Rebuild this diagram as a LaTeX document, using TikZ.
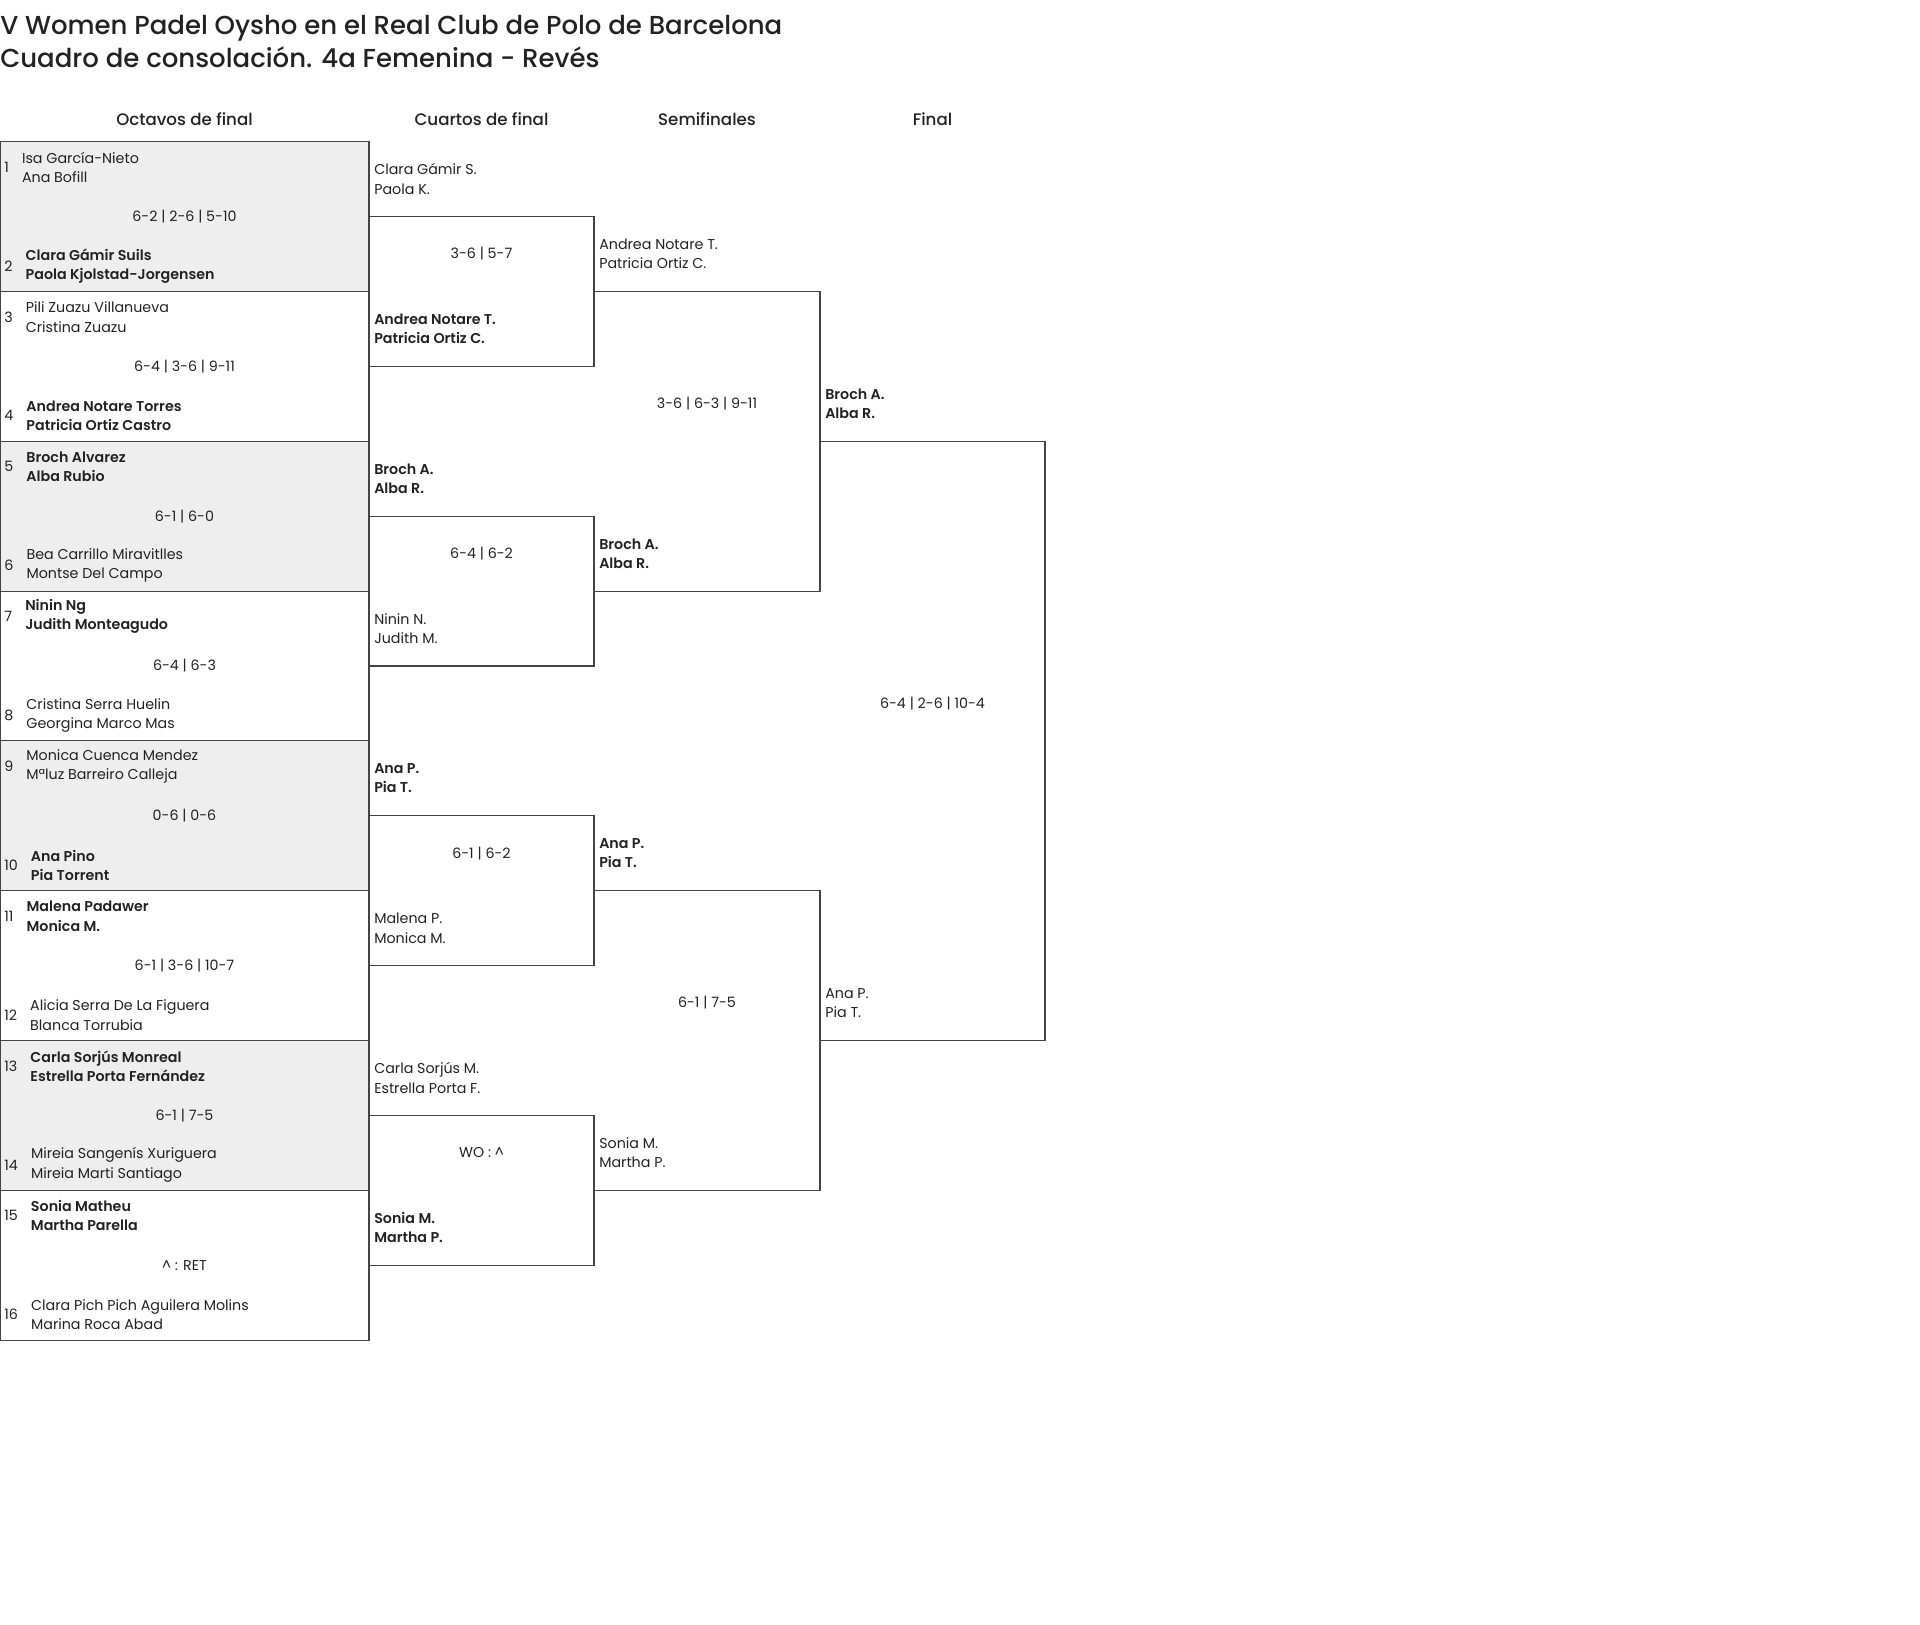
\documentclass[tikz,border=0pt]{standalone}
\usepackage{fontspec}
\setmainfont{Poppins}[BoldFont={Poppins Medium}]
\newfontfamily\semi{Poppins SemiBold}
\usetikzlibrary{positioning}
\definecolor{linea}{HTML}{444444}
\definecolor{gris}{HTML}{EEEEEE}
\definecolor{texto}{HTML}{222222}
\tikzset{
  caja/.style={draw=linea, line width=0.8pt},
  num/.style={anchor=west, inner xsep=3pt, inner ysep=0pt, font=\fontsize{10.7}{14.5}\selectfont},
  pierde/.style={align=left, inner xsep=3pt, inner ysep=0pt, font=\fontsize{10.7}{14.5}\selectfont},
  gana/.style={pierde, font=\fontsize{10.7}{14.5}\semi},
  res/.style={inner sep=0pt, font=\fontsize{10.7}{14.5}\selectfont},
  ronda/.style={anchor=west, inner sep=0pt},
  titulo/.style={anchor=west, inner sep=0pt, font=\fontsize{19.5}{23}\selectfont\bfseries},
  cabecera/.style={inner sep=0pt, font=\fontsize{12.5}{15}\selectfont\bfseries}
}
\begin{document}
\begin{tikzpicture}[x=0.75pt, y=-0.75pt, text=texto]
\useasboundingbox (0,0) rectangle (1920,1624);
% Titulo:
\node[titulo] (tit1) at (0,28) {V Women Padel Oysho en el Real Club de Polo de Barcelona};
\node[titulo] (tit2) at (0,57.5) {Cuadro de consolación. 4a Femenina - Revés};
% Rondas:
\node[cabecera] (octavos) at (184.5,119) {Octavos de final};
\node[cabecera] (cuartos) at (481.5,119) {Cuartos de final};
\node[cabecera] (semis) at (707,119) {Semifinales};
\node[cabecera] (final) at (932.5,119) {Final};
\begin{scope}[shift={(0,141.7)}, y=-56.175pt]
% Cajas octavos:
\fill[gris] (0,0) rectangle (369,2);
\fill[gris] (0,4) rectangle (369,6);
\fill[gris] (0,8) rectangle (369,10);
\fill[gris] (0,12) rectangle (369,14);
\draw[caja] (0,0) rectangle (369,2);
\draw[caja] (0,2) rectangle (369,4);
\draw[caja] (0,4) rectangle (369,6);
\draw[caja] (0,6) rectangle (369,8);
\draw[caja] (0,8) rectangle (369,10);
\draw[caja] (0,10) rectangle (369,12);
\draw[caja] (0,12) rectangle (369,14);
\draw[caja] (0,14) rectangle (369,16);
% Llaves cuartos, semis, final:
\draw[caja] (369,1) -- (594,1) -- (594,3) -- (369,3);
\draw[caja] (369,5) -- (594,5) -- (594,7) -- (369,7);
\draw[caja] (369,9) -- (594,9) -- (594,11) -- (369,11);
\draw[caja] (369,13) -- (594,13) -- (594,15) -- (369,15);
\draw[caja] (594,2) -- (820,2) -- (820,6) -- (594,6);
\draw[caja] (594,10) -- (820,10) -- (820,14) -- (594,14);
\draw[caja] (820,4) -- (1045,4) -- (1045,12) -- (820,12);
% Octavos:
\node[num] (n1) at (0,0.34) {1};
\node[pierde, right=3.5pt of n1] (e1) {Isa García-Nieto\\Ana Bofill};
\node[res] (r1) at (184.5,1) {6-2 | 2-6 | 5-10};
\node[num] (n2) at (0,1.66) {2};
\node[gana, right=3.5pt of n2] (e2) {Clara Gámir Suils\\Paola Kjolstad-Jorgensen};
\node[num] (n3) at (0,2.34) {3};
\node[pierde, right=3.5pt of n3] (e3) {Pili Zuazu Villanueva\\Cristina Zuazu};
\node[res] (r2) at (184.5,3) {6-4 | 3-6 | 9-11};
\node[num] (n4) at (0,3.66) {4};
\node[gana, right=3.5pt of n4] (e4) {Andrea Notare Torres\\Patricia Ortiz Castro};
\node[num] (n5) at (0,4.34) {5};
\node[gana, right=3.5pt of n5] (e5) {Broch Alvarez\\Alba Rubio};
\node[res] (r3) at (184.5,5) {6-1 | 6-0};
\node[num] (n6) at (0,5.66) {6};
\node[pierde, right=3.5pt of n6] (e6) {Bea Carrillo Miravitlles\\Montse Del Campo};
\node[num] (n7) at (0,6.34) {7};
\node[gana, right=3.5pt of n7] (e7) {Ninin Ng\\Judith Monteagudo};
\node[res] (r4) at (184.5,7) {6-4 | 6-3};
\node[num] (n8) at (0,7.66) {8};
\node[pierde, right=3.5pt of n8] (e8) {Cristina Serra Huelin\\Georgina Marco Mas};
\node[num] (n9) at (0,8.34) {9};
\node[pierde, right=3.5pt of n9] (e9) {Monica Cuenca Mendez\\Mªluz Barreiro Calleja};
\node[res] (r5) at (184.5,9) {0-6 | 0-6};
\node[num] (n10) at (0,9.66) {10};
\node[gana, right=3.5pt of n10] (e10) {Ana Pino\\Pia Torrent};
\node[num] (n11) at (0,10.34) {11};
\node[gana, right=3.5pt of n11] (e11) {Malena Padawer\\Monica M.};
\node[res] (r6) at (184.5,11) {6-1 | 3-6 | 10-7};
\node[num] (n12) at (0,11.66) {12};
\node[pierde, right=3.5pt of n12] (e12) {Alicia Serra De La Figuera\\Blanca Torrubia};
\node[num] (n13) at (0,12.34) {13};
\node[gana, right=3.5pt of n13] (e13) {Carla Sorjús Monreal\\Estrella Porta Fernández};
\node[res] (r7) at (184.5,13) {6-1 | 7-5};
\node[num] (n14) at (0,13.66) {14};
\node[pierde, right=3.5pt of n14] (e14) {Mireia Sangenís Xuriguera\\Mireia Marti Santiago};
\node[num] (n15) at (0,14.34) {15};
\node[gana, right=3.5pt of n15] (e15) {Sonia Matheu\\Martha Parella};
\node[res] (r8) at (184.5,15) {\textasciicircum{} : RET};
\node[num] (n16) at (0,15.66) {16};
\node[pierde, right=3.5pt of n16] (e16) {Clara Pich Pich Aguilera Molins\\Marina Roca Abad};
% Cuartos:
\node[pierde, ronda] (c1) at (374,0.5) {Clara Gámir S.\\Paola K.};
\node[res] (rc1) at (481.5,1.5) {3-6 | 5-7};
\node[gana, ronda] (c2) at (374,2.5) {Andrea Notare T.\\Patricia Ortiz C.};
\node[gana, ronda] (c3) at (374,4.5) {Broch A.\\Alba R.};
\node[res] (rc2) at (481.5,5.5) {6-4 | 6-2};
\node[pierde, ronda] (c4) at (374,6.5) {Ninin N.\\Judith M.};
\node[gana, ronda] (c5) at (374,8.5) {Ana P.\\Pia T.};
\node[res] (rc3) at (481.5,9.5) {6-1 | 6-2};
\node[pierde, ronda] (c6) at (374,10.5) {Malena P.\\Monica M.};
\node[pierde, ronda] (c7) at (374,12.5) {Carla Sorjús M.\\Estrella Porta F.};
\node[res] (rc4) at (481.5,13.5) {WO : \textasciicircum};
\node[gana, ronda] (c8) at (374,14.5) {Sonia M.\\Martha P.};
% Semifinales:
\node[pierde, ronda] (s1) at (599,1.5) {Andrea Notare T.\\Patricia Ortiz C.};
\node[res] (rs1) at (707,3.5) {3-6 | 6-3 | 9-11};
\node[gana, ronda] (s2) at (599,5.5) {Broch A.\\Alba R.};
\node[gana, ronda] (s3) at (599,9.5) {Ana P.\\Pia T.};
\node[res] (rs2) at (707,11.5) {6-1 | 7-5};
\node[pierde, ronda] (s4) at (599,13.5) {Sonia M.\\Martha P.};
% Final:
\node[gana, ronda] (f1) at (825,3.5) {Broch A.\\Alba R.};
\node[res] (rf) at (932.5,7.5) {6-4 | 2-6 | 10-4};
\node[pierde, ronda] (f2) at (825,11.5) {Ana P.\\Pia T.};
\end{scope}
\end{tikzpicture}
\end{document}
